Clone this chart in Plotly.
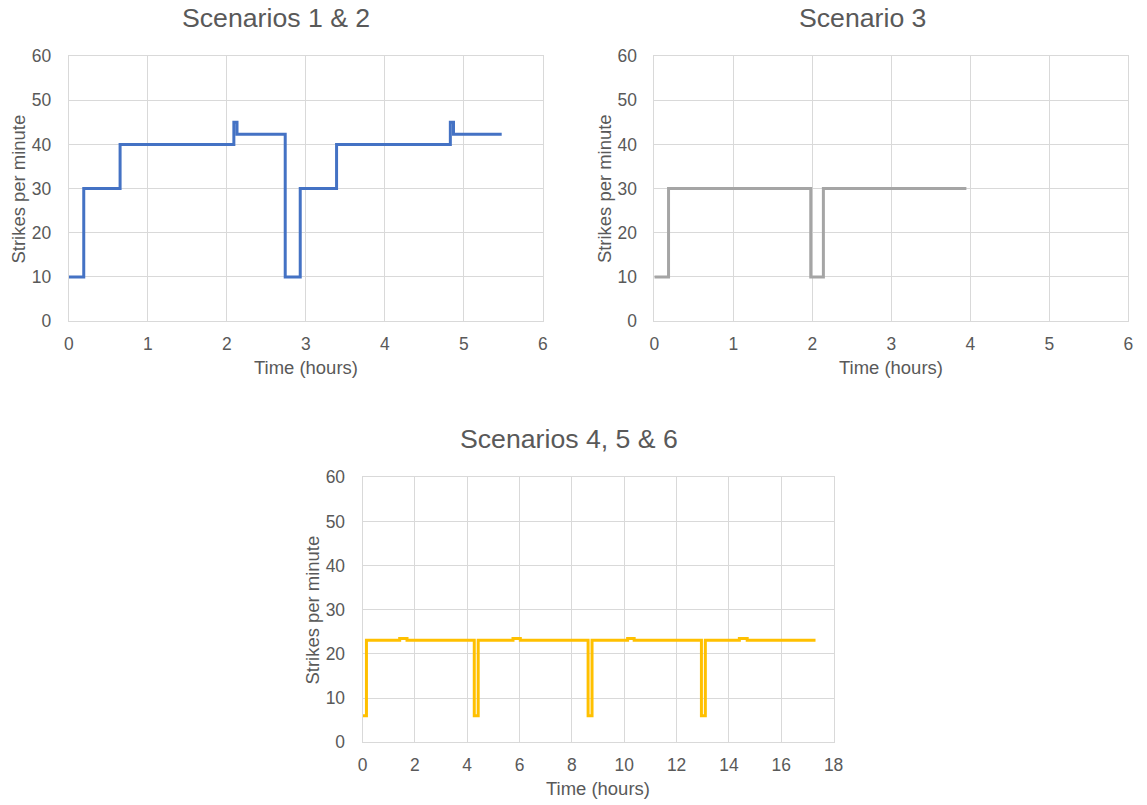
import plotly.graph_objects as go

W, H = 1147, 815

# Scenarios 1 & 2: strike rate steps (time in hours, strikes per minute)
s12_time = [0, 0.19, 0.65, 2.09, 2.13, 2.74, 2.93, 3.39, 4.83, 4.87, 5.48]
s12_rate = [10, 30, 40, 45, 42.3, 10, 30, 40, 45, 42.3, 42.3]

# Scenario 3
s3_time = [0, 0.18, 1.98, 2.14, 3.95]
s3_rate = [10, 30, 10, 30, 30]

# Scenarios 4, 5 & 6
s456_time = [0, 0.15, 1.42, 1.70, 4.27, 4.42, 5.75, 6.03, 8.62, 8.77,
             10.13, 10.38, 12.95, 13.10, 14.40, 14.70, 17.31]
s456_rate = [6, 23.1, 23.5, 23.1, 6, 23.1, 23.5, 23.1, 6, 23.1,
             23.5, 23.1, 6, 23.1, 23.5, 23.1, 23.1]

titles = ["Scenarios 1 & 2", "Scenario 3", "Scenarios 4, 5 & 6"]
x_ranges = [(0, 6, 1), (0, 6, 1), (0, 18, 2)]
y_range = (0, 60, 10)
x_title = "Time (hours)"
y_title = "Strikes per minute"

colors = ["#4472C4", "#A5A5A5", "#FFC000"]
TXT = "#595959"
GRID = "#D9D9D9"
FONT = "Liberation Sans, Arial, sans-serif"

# on-screen placement: screen = offset + scale * figure pixel
SX, SY = 0.991, 0.975
OX, OY = 3.0, 10.0

# plot boxes in screen pixels: (left, top, right, bottom)
boxes = [(67, 56, 543, 321), (655, 56, 1131, 321), (362, 477, 835, 742)]
title_cx = [275, 864, 569]


def px_x(p):
    return (p - OX) / SX / W


def px_y(p):
    return 1 - (p - OY) / SY / H


def fs(size):
    return size / SY


fig = go.Figure()
series = [(s12_time, s12_rate), (s3_time, s3_rate), (s456_time, s456_rate)]
annotations = []
layout = {}
for i, ((t, v), box, col, xr) in enumerate(zip(series, boxes, colors, x_ranges)):
    n = "" if i == 0 else str(i + 1)
    fig.add_trace(go.Scatter(
        x=t, y=v, mode="lines", line=dict(color=col, width=3, shape="hv"),
        xaxis="x" + n, yaxis="y" + n, showlegend=False, hoverinfo="skip"))
    l, tp, r, b = box
    layout["xaxis" + n] = dict(
        domain=[px_x(l), px_x(r)], anchor="y" + n, range=[xr[0], xr[1]],
        tick0=0, dtick=xr[2], showgrid=True, gridcolor=GRID, gridwidth=1,
        showline=True, linecolor=GRID, linewidth=1, mirror=True,
        zeroline=False, ticks="", ticklabelstandoff=7,
        tickfont=dict(family=FONT, size=fs(17), color=TXT), fixedrange=True)
    layout["yaxis" + n] = dict(
        domain=[px_y(b), px_y(tp)], anchor="x" + n,
        range=[y_range[0], y_range[1]], tick0=0, dtick=y_range[2],
        showgrid=True, gridcolor=GRID, gridwidth=1,
        showline=True, linecolor=GRID, linewidth=1, mirror=True,
        zeroline=False, ticks="", ticklabelstandoff=13,
        tickfont=dict(family=FONT, size=fs(17), color=TXT), fixedrange=True)
    # chart title
    annotations.append(dict(
        text=titles[i], x=px_x(title_cx[i]), y=px_y(tp - 38),
        xref="paper", yref="paper", xanchor="center", yanchor="middle",
        showarrow=False, font=dict(family=FONT, size=fs(26), color=TXT)))
    # x axis title
    annotations.append(dict(
        text=x_title, x=px_x((l + r) / 2), y=px_y(b + 46),
        xref="paper", yref="paper", xanchor="center", yanchor="middle",
        showarrow=False, font=dict(family=FONT, size=fs(18), color=TXT)))
    # y axis title
    annotations.append(dict(
        text=y_title, x=px_x(l - 50), y=px_y((tp + b) / 2),
        xref="paper", yref="paper", xanchor="center", yanchor="middle",
        textangle=-90, showarrow=False,
        font=dict(family=FONT, size=fs(18), color=TXT)))

fig.update_layout(
    width=W, height=H, margin=dict(l=0, r=0, t=0, b=0),
    paper_bgcolor="white", plot_bgcolor="white",
    annotations=annotations, **layout)

fig.write_html("out.html")
